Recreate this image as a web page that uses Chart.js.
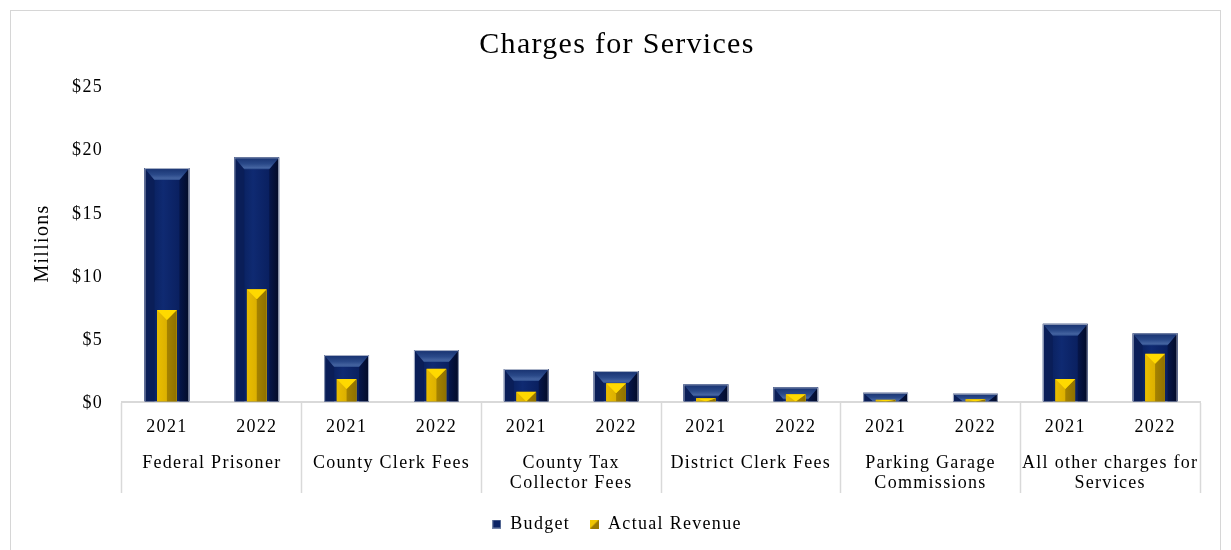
<!DOCTYPE html>
<html>
<head>
<meta charset="utf-8">
<title>Charges for Services</title>
<script src="https://cdn.jsdelivr.net/npm/chart.js@4.4.1/dist/chart.umd.min.js"></script>
<style>
  html, body { margin: 0; padding: 0; background: #ffffff; }
  #wrap { position: relative; width: 1231px; height: 550px; overflow: hidden; }
  #wrap canvas { position: absolute; left: 0; top: 0; }
  #frame { position: absolute; left: 10px; top: 10px; width: 1209px; height: 560px;
           border: 1px solid #d6d6d6; pointer-events: none; }
</style>
</head>
<body>
<div id="wrap">
  <canvas id="chart" width="1231" height="550"></canvas>
  <div id="frame"></div>
</div>
<script>
// Fiscal years shown for every revenue source
const years = ['2021', '2022', '2021', '2022', '2021', '2022',
               '2021', '2022', '2021', '2022', '2021', '2022'];

// Revenue sources (second row of the category axis)
const sources = [
  'Federal Prisoner',
  'County Clerk Fees',
  ['County Tax', 'Collector Fees'],
  'District Clerk Fees',
  ['Parking Garage', 'Commissions'],
  ['All other charges for', 'Services']
];

// Values in millions of dollars
const budget = [18.47, 19.32, 3.68, 4.07, 2.57, 2.41, 1.36, 1.12, 0.70, 0.62, 6.15, 5.40];
const actual = [7.24, 8.88, 1.78, 2.59, 0.78, 1.44, 0.25, 0.57, 0.14, 0.17, 1.78, 3.78];

// Value axis ticks
const yTicks = [0, 5, 10, 15, 20, 25];

const serif = '"Liberation Serif", "Times New Roman", serif';
const LETTER_SPACING = '1.3px';

// The serif text in this chart is set a little loose
const textSpacing = {
  id: 'textSpacing',
  beforeUpdate(chart) { chart.ctx.letterSpacing = LETTER_SPACING; },
  beforeDraw(chart) { chart.ctx.letterSpacing = LETTER_SPACING; }
};

function poly(ctx, pts, fill) {
  ctx.beginPath();
  ctx.moveTo(pts[0][0], pts[0][1]);
  for (let i = 1; i < pts.length; i++) ctx.lineTo(pts[i][0], pts[i][1]);
  ctx.closePath();
  ctx.fillStyle = fill;
  ctx.fill();
}

// Bevelled navy column
function drawNavy(ctx, x0, x1, y0, y1) {
  const w = x1 - x0, h = y1 - y0;
  const bs = Math.min(10, w / 2), bt = Math.min(12, h);
  const face = ctx.createLinearGradient(x0 + bs, 0, x1 - bs, 0);
  face.addColorStop(0, '#0b2363');
  face.addColorStop(0.35, '#0f2a72');
  face.addColorStop(1, '#0a2060');
  ctx.fillStyle = face;
  ctx.fillRect(x0, y0, w, h);
  poly(ctx, [[x0, y0], [x0 + bs, y0 + bt], [x0 + bs, y1], [x0, y1]], '#0a1e58');
  const right = ctx.createLinearGradient(x1 - bs, 0, x1, 0);
  right.addColorStop(0, '#06164a');
  right.addColorStop(1, '#020a26');
  poly(ctx, [[x1, y0], [x1, y1], [x1 - bs, y1], [x1 - bs, y0 + bt]], right);
  const top = ctx.createLinearGradient(0, y0, 0, y0 + bt);
  top.addColorStop(0, '#17316f');
  top.addColorStop(0.55, '#2a4989');
  top.addColorStop(0.85, '#4463a0');
  top.addColorStop(1, '#2c4b8b');
  poly(ctx, [[x0, y0], [x1, y0], [x1 - bs, y0 + bt], [x0 + bs, y0 + bt]], top);
  ctx.strokeStyle = '#aab3c8';
  ctx.lineWidth = 1;
  ctx.beginPath();
  ctx.moveTo(x0 + 0.5, y1);
  ctx.lineTo(x0 + 0.5, y0 + 0.5);
  ctx.lineTo(x1 - 0.5, y0 + 0.5);
  ctx.lineTo(x1 - 0.5, y1);
  ctx.stroke();
}

// Bevelled gold column
function drawGold(ctx, x0, x1, y0, y1) {
  const w = x1 - x0, h = y1 - y0;
  const xm = (x0 + x1) / 2;
  const bt = Math.min(10, h);
  ctx.fillStyle = '#e0b300';
  ctx.fillRect(x0, y0, w, h);
  const left = ctx.createLinearGradient(x0, 0, xm, 0);
  left.addColorStop(0, '#e9bd00');
  left.addColorStop(1, '#dcb000');
  poly(ctx, [[x0, y0], [xm, y0 + bt], [xm, y1], [x0, y1]], left);
  const right = ctx.createLinearGradient(xm, 0, x1, 0);
  right.addColorStop(0, '#a58200');
  right.addColorStop(1, '#8f7100');
  poly(ctx, [[x1, y0], [x1, y1], [xm, y1], [xm, y0 + bt]], right);
  poly(ctx, [[x0, y0], [x1, y0], [xm, y0 + bt]], '#ffd900');
}

const bevel = {
  id: 'bevel',
  afterDatasetDraw(chart, args) {
    const ctx = chart.ctx;
    const meta = args.meta;
    const kind = chart.data.datasets[meta.index].bevel;
    meta.data.forEach(el => {
      const p = el.getProps(['x', 'y', 'base', 'width'], true);
      const x0 = p.x - p.width / 2, x1 = p.x + p.width / 2;
      const y0 = Math.min(p.y, p.base), y1 = Math.max(p.y, p.base);
      if (y1 - y0 <= 0) return;
      ctx.save();
      ctx.beginPath();
      ctx.rect(x0, y0, x1 - x0, y1 - y0);
      ctx.clip();
      if (kind === 'navy') drawNavy(ctx, x0, x1, y0, y1);
      else drawGold(ctx, x0, x1, y0, y1);
      ctx.restore();
    });
  }
};

function icon(paint) {
  const c = document.createElement('canvas');
  c.width = 9; c.height = 9;
  paint(c.getContext('2d'));
  return c;
}
const legendIcons = [
  icon(g => {
    g.fillStyle = '#0c2465'; g.fillRect(0, 0, 9, 9);
    g.strokeStyle = '#7383a6'; g.lineWidth = 1; g.strokeRect(0.5, 0.5, 8, 8);
  }),
  icon(g => {
    g.fillStyle = '#9a7900'; g.fillRect(0, 0, 9, 9);
    g.fillStyle = '#f0c600';
    g.beginPath(); g.moveTo(0, 0); g.lineTo(9, 0); g.lineTo(0, 9); g.closePath(); g.fill();
  })
];

const axisGray = '#d9d9d9';
const groupEdge = c => (c.index === undefined || c.index % 2 === 0) ? axisGray : 'rgba(0,0,0,0)';

new Chart(document.getElementById('chart'), {
  type: 'bar',
  data: {
    labels: years,
    datasets: [
      {
        label: 'Budget', data: budget, bevel: 'navy',
        backgroundColor: '#0c2465', borderWidth: 0,
        grouped: false, barPercentage: 0.5, categoryPercentage: 1,
        order: 2, xAxisID: 'x', yAxisID: 'y'
      },
      {
        label: 'Actual Revenue', data: actual, bevel: 'gold',
        backgroundColor: '#e0b300', borderWidth: 0,
        grouped: false, barPercentage: 0.22, categoryPercentage: 1,
        order: 1, xAxisID: 'x', yAxisID: 'y'
      }
    ]
  },
  options: {
    responsive: false,
    animation: false,
    devicePixelRatio: 1,
    layout: { padding: { left: 10, right: 7, top: 0, bottom: 7 } },
    scales: {
      y: {
        min: 0, max: 25,
        afterBuildTicks(s) { s.ticks = yTicks.map(v => ({ value: v })); },
        ticks: {
          callback: v => '$' + v,
          font: { family: serif, size: 18 }, color: '#000', padding: 19, labelOffset: 2
        },
        grid: { display: false, drawTicks: false },
        border: { display: false },
        title: {
          display: true, text: 'Millions', color: '#000',
          font: { family: serif, size: 20 }, padding: { top: 21, bottom: 0 }
        },
        afterFit(s) { s.width = 112; }
      },
      yPad: {
        position: 'right',
        grid: { display: false, drawTicks: false },
        border: { display: false },
        ticks: { display: false },
        afterFit(s) { s.width = 24; }
      },
      x: {
        type: 'category', position: 'bottom', weight: 0, offset: true,
        grid: {
          display: true, drawOnChartArea: false, drawTicks: true, offset: true,
          tickLength: 91.5, tickWidth: 1.5, tickColor: groupEdge, color: groupEdge
        },
        border: { display: true, color: axisGray, width: 2 },
        ticks: {
          font: { family: serif, size: 18, lineHeight: 1.1 }, color: '#000',
          padding: -76, maxRotation: 0, minRotation: 0, autoSkip: false
        },
        afterFit(s) { s.height = 36; }
      },
      x2: {
        type: 'category', labels: sources, position: 'bottom', weight: 1, offset: true,
        grid: { display: false, drawTicks: false },
        border: { display: false },
        ticks: {
          font: { family: serif, size: 18, lineHeight: 1.1 }, color: '#000',
          padding: 15.6, maxRotation: 0, minRotation: 0, autoSkip: false
        },
        afterFit(s) { s.height = 57.5; }
      }
    },
    plugins: {
      title: {
        display: true, text: 'Charges for Services', color: '#000',
        font: { family: serif, size: 30, weight: 'normal' },
        padding: { top: 27, bottom: 22.5 }
      },
      legend: {
        position: 'bottom',
        labels: {
          font: { family: serif, size: 18 }, color: '#000',
          usePointStyle: true, boxWidth: 9, boxHeight: 9, padding: 20,
          sort: (a, b) => a.datasetIndex - b.datasetIndex,
          generateLabels(chart) {
            const items = Chart.defaults.plugins.legend.labels.generateLabels(chart);
            items.forEach(it => { it.pointStyle = legendIcons[it.datasetIndex]; });
            return items;
          }
        }
      },
      tooltip: { enabled: false }
    }
  },
  plugins: [textSpacing, bevel]
});
</script>
</body>
</html>
